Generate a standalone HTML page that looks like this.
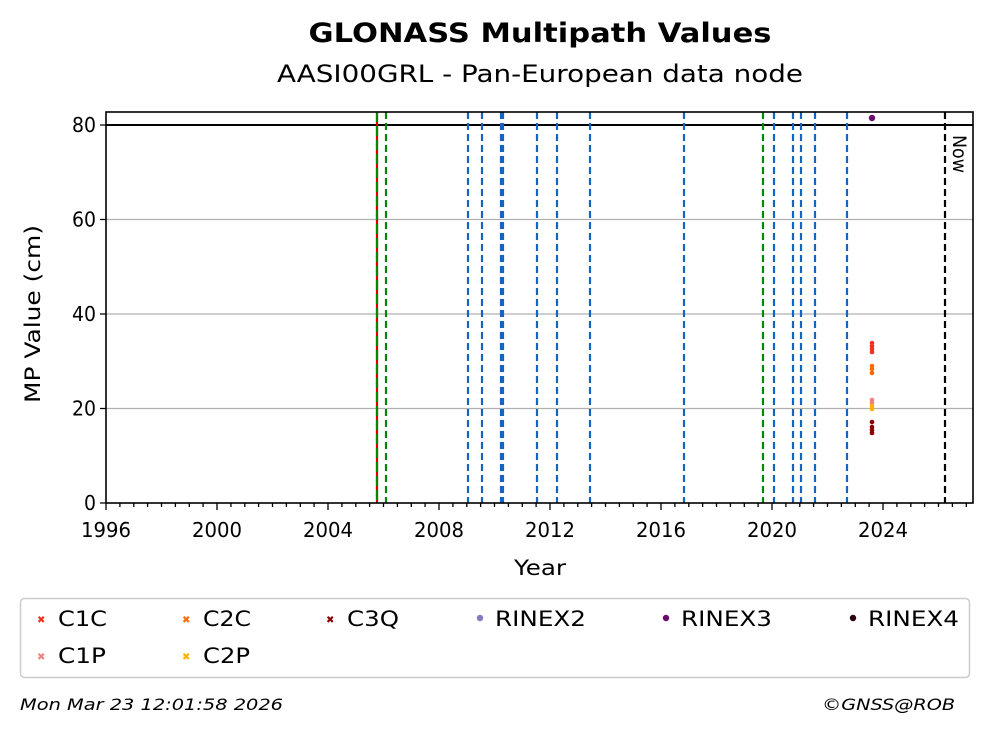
<!DOCTYPE html>
<html><head><meta charset="utf-8"><style>body{margin:0;background:#fff}svg{display:block;font-family:"DejaVu Sans","Liberation Sans",sans-serif}</style></head><body>
<svg width="992" height="734" xmlns="http://www.w3.org/2000/svg">
<text x="540" y="42" text-anchor="middle" font-size="27" font-weight="bold" textLength="463" lengthAdjust="spacingAndGlyphs">GLONASS Multipath Values</text>
<text x="540" y="82" text-anchor="middle" font-size="24" textLength="526" lengthAdjust="spacingAndGlyphs">AASI00GRL - Pan-European data node</text>
<g stroke="#b0b0b0" stroke-width="1.3">
<line x1="106" x2="973" y1="219.5" y2="219.5"/><line x1="106" x2="973" y1="314" y2="314"/><line x1="106" x2="973" y1="408.5" y2="408.5"/>
</g>
<line x1="106" x2="973" y1="125" y2="125" stroke="#000" stroke-width="2"/>
<g stroke-width="2.2" stroke-dasharray="7,4" fill="none">
<line x1="377" x2="377" y1="112" y2="503" stroke="#d00" stroke-dasharray="none"/>
<line x1="377" x2="377" y1="112" y2="503" stroke="#080" stroke-dasharray="10,4"/>
<line x1="386" x2="386" y1="112" y2="503" stroke="#080"/>
<g stroke="#1565c0">
<line x1="468" x2="468" y1="112" y2="503"/><line x1="482" x2="482" y1="112" y2="503"/>
<line x1="501" x2="501" y1="112" y2="503"/><line x1="503" x2="503" y1="112" y2="503"/>
<line x1="537" x2="537" y1="112" y2="503"/><line x1="557" x2="557" y1="112" y2="503"/>
<line x1="590" x2="590" y1="112" y2="503"/><line x1="684" x2="684" y1="112" y2="503"/>
<line x1="774" x2="774" y1="112" y2="503"/><line x1="793" x2="793" y1="112" y2="503"/>
<line x1="801" x2="801" y1="112" y2="503"/><line x1="815" x2="815" y1="112" y2="503"/>
<line x1="847" x2="847" y1="112" y2="503"/>
</g>
<line x1="763" x2="763" y1="112" y2="503" stroke="#080"/>
<line x1="945" x2="945" y1="112" y2="503" stroke="#000"/>
</g>
<text transform="translate(953,135) rotate(90)" font-size="19" textLength="38" lengthAdjust="spacingAndGlyphs">Now</text>
<g>
<circle cx="872" cy="118" r="3.2" fill="#6a0a6a"/>
<g fill="#f03020"><circle cx="872" cy="343" r="2.3"/><circle cx="872" cy="346" r="2.3"/><circle cx="872" cy="349" r="2.3"/><circle cx="872" cy="352" r="2.3"/></g>
<g fill="#ff6a00"><circle cx="872" cy="366" r="2.3"/><circle cx="872" cy="369" r="2.3"/><circle cx="872" cy="373" r="2.3"/></g>
<g fill="#f08080"><circle cx="872" cy="400" r="2.3"/><circle cx="872" cy="403" r="2.3"/></g>
<g fill="#ffb000"><circle cx="872" cy="406" r="2.3"/><circle cx="872" cy="409" r="2.3"/></g>
<g fill="#8b0000"><circle cx="872" cy="422" r="2.3"/><circle cx="872" cy="427" r="2.3"/><circle cx="872" cy="430" r="2.3"/><circle cx="872" cy="433" r="2.3"/></g>
</g>
<rect x="106" y="112" width="867" height="391" fill="none" stroke="#000" stroke-width="1.6"/>
<path stroke="#000" stroke-width="1.3" fill="none" d="M106 503v7M119.9 503v4M133.8 503v4M147.6 503v4M161.5 503v4M175.4 503v4M189.3 503v4M203.1 503v4M217 503v7M230.9 503v4M244.8 503v4M258.6 503v4M272.5 503v4M286.4 503v4M300.3 503v4M314.1 503v4M328 503v7M341.9 503v4M355.8 503v4M369.6 503v4M383.5 503v4M397.4 503v4M411.3 503v4M425.1 503v4M439 503v7M452.9 503v4M466.8 503v4M480.6 503v4M494.5 503v4M508.4 503v4M522.3 503v4M536.1 503v4M550 503v7M563.9 503v4M577.8 503v4M591.6 503v4M605.5 503v4M619.4 503v4M633.3 503v4M647.1 503v4M661 503v7M674.9 503v4M688.8 503v4M702.6 503v4M716.5 503v4M730.4 503v4M744.3 503v4M758.1 503v4M772 503v7M785.9 503v4M799.8 503v4M813.6 503v4M827.5 503v4M841.4 503v4M855.3 503v4M869.1 503v4M883 503v7M896.9 503v4M910.8 503v4M924.6 503v4M938.5 503v4M952.4 503v4M966.3 503v4M100 503h6M100 408.5h6M100 314h6M100 219.5h6M100 125h6"/>
<g font-size="20" text-anchor="end">
<text x="96" y="510" textLength="12" lengthAdjust="spacingAndGlyphs">0</text><text x="96" y="415.5" textLength="24" lengthAdjust="spacingAndGlyphs">20</text><text x="96" y="321" textLength="24" lengthAdjust="spacingAndGlyphs">40</text><text x="96" y="226.5" textLength="24" lengthAdjust="spacingAndGlyphs">60</text><text x="96" y="132" textLength="24" lengthAdjust="spacingAndGlyphs">80</text>
</g>
<text transform="translate(40,314) rotate(-90)" font-size="21" text-anchor="middle" textLength="178" lengthAdjust="spacingAndGlyphs">MP Value (cm)</text>
<text x="540" y="575" font-size="21" text-anchor="middle" textLength="52" lengthAdjust="spacingAndGlyphs">Year</text>
<g font-size="20" text-anchor="middle">
<text x="106" y="537" textLength="50" lengthAdjust="spacingAndGlyphs">1996</text><text x="217" y="537" textLength="50" lengthAdjust="spacingAndGlyphs">2000</text><text x="328" y="537" textLength="50" lengthAdjust="spacingAndGlyphs">2004</text><text x="439" y="537" textLength="50" lengthAdjust="spacingAndGlyphs">2008</text><text x="550" y="537" textLength="50" lengthAdjust="spacingAndGlyphs">2012</text><text x="661" y="537" textLength="50" lengthAdjust="spacingAndGlyphs">2016</text><text x="772" y="537" textLength="50" lengthAdjust="spacingAndGlyphs">2020</text><text x="883" y="537" textLength="50" lengthAdjust="spacingAndGlyphs">2024</text>
</g>
<rect x="20.5" y="598.5" width="949" height="79" rx="4" fill="none" stroke="#ccc" stroke-width="1.5"/>
<g font-size="21">
<text x="37" y="623" fill="#f03020" font-size="10">✖</text><text x="58" y="626" textLength="49" lengthAdjust="spacingAndGlyphs">C1C</text>
<text x="37" y="660" fill="#f08080" font-size="10">✖</text><text x="58" y="663" textLength="48" lengthAdjust="spacingAndGlyphs">C1P</text>
<text x="182" y="623" fill="#ff6a00" font-size="10">✖</text><text x="203" y="626" textLength="48" lengthAdjust="spacingAndGlyphs">C2C</text>
<text x="182" y="660" fill="#ffb000" font-size="10">✖</text><text x="203" y="663" textLength="47" lengthAdjust="spacingAndGlyphs">C2P</text>
<text x="326" y="623" fill="#8b0000" font-size="10">✖</text><text x="347" y="626" textLength="52" lengthAdjust="spacingAndGlyphs">C3Q</text>
<circle cx="480" cy="618" r="3.2" fill="#8878c0"/><text x="495" y="626" textLength="91" lengthAdjust="spacingAndGlyphs">RINEX2</text>
<circle cx="666" cy="618" r="3.2" fill="#6a0a6a"/><text x="681" y="626" textLength="91" lengthAdjust="spacingAndGlyphs">RINEX3</text>
<circle cx="853" cy="618" r="3.2" fill="#2a0010"/><text x="868" y="626" textLength="91" lengthAdjust="spacingAndGlyphs">RINEX4</text>
</g>
<text x="20" y="710" font-size="16" font-style="italic" textLength="263" lengthAdjust="spacingAndGlyphs">Mon Mar 23 12:01:58 2026</text>
<text x="822" y="710" font-size="16" font-style="italic" textLength="133" lengthAdjust="spacingAndGlyphs">©GNSS@ROB</text>
</svg>
</body></html>
